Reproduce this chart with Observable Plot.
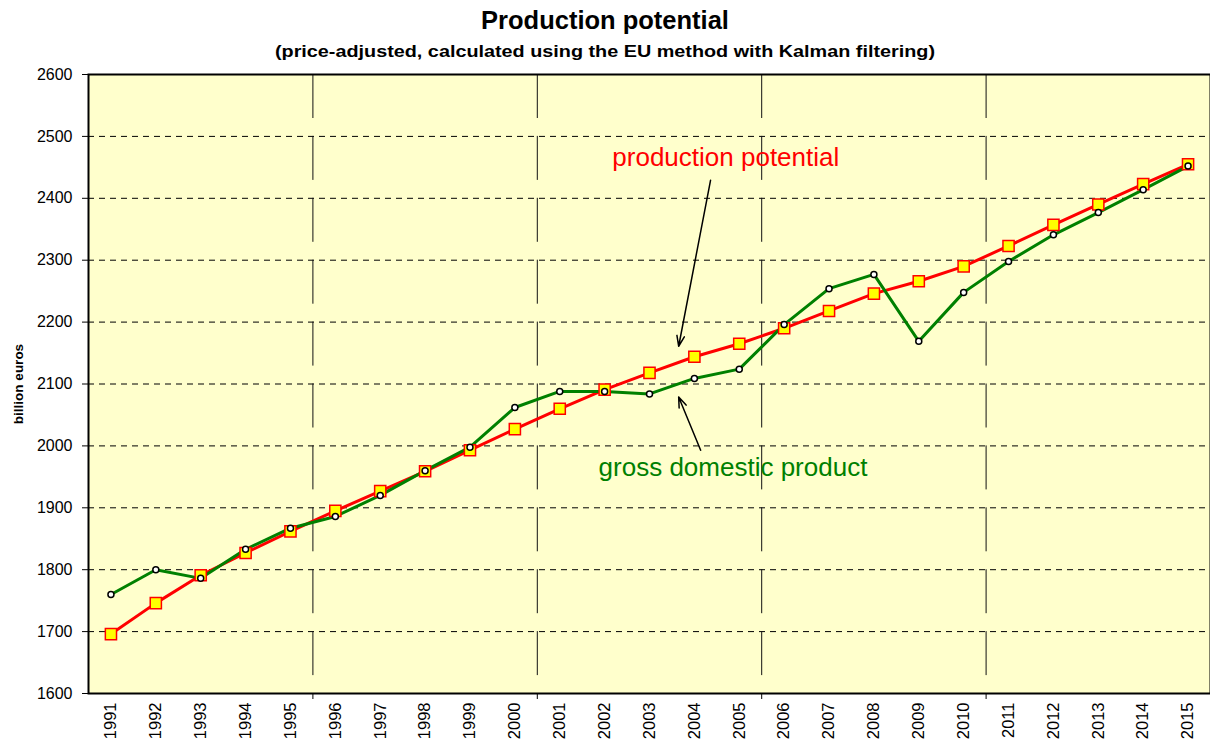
<!DOCTYPE html>
<html><head><meta charset="utf-8">
<script src="https://cdn.jsdelivr.net/npm/d3@7"></script>
<script src="https://cdn.jsdelivr.net/npm/@observablehq/plot@0.6"></script>
<style>
body{margin:0;background:#fff;font-family:Arial,"Liberation Sans",sans-serif;}
#wrap{position:relative;width:1210px;height:742px;overflow:hidden}
#title{position:absolute;left:0;width:1210px;top:8px;text-align:center;font-weight:bold;font-size:25.5px;line-height:25px}
#subtitle{position:absolute;left:0;width:1210px;top:43px;text-align:center;font-weight:bold;font-size:16.5px;line-height:16px;transform:scaleX(1.2);transform-origin:605px 0}
#chart{position:absolute;left:0;top:64px}
</style></head><body>
<div id="wrap"><div id="title">Production potential</div><div id="subtitle">(price-adjusted, calculated using the EU method with Kalman filtering)</div><div id="chart"></div></div>
<script>
const years = [1991,1992,1993,1994,1995,1996,1997,1998,1999,2000,2001,2002,2003,2004,2005,2006,2007,2008,2009,2010,2011,2012,2013,2014,2015];
const potential = [1696,1746,1791,1827,1862,1895,1927,1959,1993,2027,2060,2091,2118,2144,2165,2190,2218,2246,2266,2290,2323,2357,2390,2423,2455];
const gdp = [1760,1800,1786,1833,1867,1886,1920,1960,1998,2062,2088,2088,2084,2109,2124,2196,2254,2277,2169,2248,2298,2341,2377,2414,2452];
const yTicks = [1600,1700,1800,1900,2000,2100,2200,2300,2400,2500,2600];
const gridValues = [1700,1800,1900,2000,2100,2200,2300,2400,2500];
const fiveYearBreaks = [1995.5,2000.5,2005.5,2010.5];
const yAxisTitle = ["billion euros"];
const labelText = ["production potential","gross domestic product"];
const labelX = [2004.7,2004.86];
const labelY = [2465,1965];
const labelColor = ["#FF0000","#008000"];
const arrowX1 = [2004.36,2004.14];
const arrowY1 = [2429,1993];
const arrowX2 = [2003.65,2003.65];
const arrowY2 = [2161,2079];

const pp = years.map((y,i)=>({year:y,value:potential[i]}));
const gd = years.map((y,i)=>({year:y,value:gdp[i]}));
const labels = labelText.map((t,i)=>({text:t,x:labelX[i],y:labelY[i],color:labelColor[i]}));
const arrows = arrowX1.map((x,i)=>({x1:x,y1:arrowY1[i],x2:arrowX2[i],y2:arrowY2[i]}));

const chart = Plot.plot({
  width:1210, height:678, marginTop:10, marginBottom:49, marginLeft:88, marginRight:0,
  style:{fontFamily:'Arial,"Liberation Sans",sans-serif', fontSize:"16px", color:"#000", background:"transparent", overflow:"visible"},
  x:{domain:[1990.5,2015.5]},
  y:{domain:[1600,2600]},
  marks:[
    Plot.frame({fill:"#FFFFCC"}),
    Plot.ruleY(gridValues,{stroke:"#000",strokeDasharray:"6,5",strokeWidth:1}),
    Plot.ruleX(fiveYearBreaks,{stroke:"#111",strokeDasharray:"44,17.9",strokeWidth:1}),
    Plot.axisY({ticks:yTicks,tickFormat:d=>String(d),tickSize:6,tickPadding:10,label:null,fontSize:16}),
    Plot.axisX({ticks:years,tickFormat:d=>String(d),tickSize:0,tickPadding:9,tickRotate:-90,label:null,fontSize:16.5}),
    Plot.axisX({ticks:fiveYearBreaks,tickSize:6,tickFormat:()=>"",label:null}),
    Plot.text(yAxisTitle,{text:d=>d,frameAnchor:"left",textAnchor:"middle",rotate:-90,dx:-70,fontWeight:"bold",fontSize:13.5}),
    Plot.line(pp,{x:"year",y:"value",stroke:"#FF0000",strokeWidth:3}),
    Plot.line(gd,{x:"year",y:"value",stroke:"#008000",strokeWidth:3}),
    Plot.dot(pp,{x:"year",y:"value",symbol:"square",r:6.3,fill:"#FFFF00",stroke:"#FF0000",strokeWidth:1.5}),
    Plot.dot(gd,{x:"year",y:"value",r:3,fill:"#fff",stroke:"#000",strokeWidth:1.5}),
    Plot.arrow(arrows,{x1:"x1",y1:"y1",x2:"x2",y2:"y2",stroke:"#000",strokeWidth:1.5,headLength:11,headAngle:40}),
    Plot.text(labels,{x:"x",y:"y",text:"text",fill:"color",fontSize:26,textAnchor:"middle"}),
    Plot.frame({stroke:"#000",strokeWidth:2})
  ]
});
document.getElementById("chart").appendChild(chart);
</script>
</body></html>
